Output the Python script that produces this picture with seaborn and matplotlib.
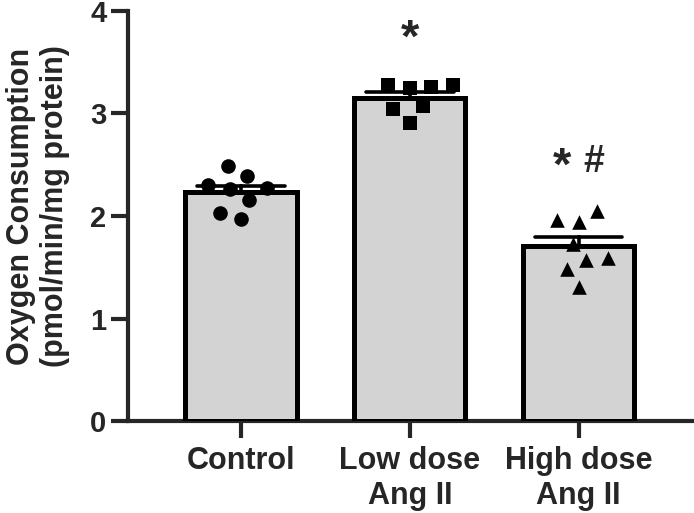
import matplotlib
matplotlib.use("Agg")
import matplotlib.pyplot as plt
import seaborn as sns
import pandas as pd

# values
groups = ["Control", "Low dose\nAng II", "High dose\nAng II"]
control = [2.49, 2.39, 2.26, 2.27, 2.30, 2.16, 1.97, 2.03]
low_dose = [3.28, 3.26, 3.28, 3.25, 3.07, 3.04, 2.91]
high_dose = [1.96, 2.05, 1.94, 1.73, 1.59, 1.57, 1.48, 1.31]
markers = ["o", "s", "^"]

df = pd.DataFrame({
    "group": [groups[0]] * len(control) + [groups[1]] * len(low_dose) + [groups[2]] * len(high_dose),
    "value": control + low_dose + high_dose,
})

sns.set_style("ticks")
plt.rcParams["font.family"] = ["Liberation Sans", "DejaVu Sans"]
plt.rcParams["font.weight"] = "bold"

fig = plt.figure(figsize=(6.94, 5.13), dpi=100)
ax = fig.add_axes([0.1844, 0.1793, 0.8146, 0.7993])

sns.barplot(data=df, x="group", y="value", order=groups, errorbar="se",
            color="#d3d3d3", edgecolor="black", linewidth=3.6, width=0.66,
            capsize=0.52, err_kws={"color": "black", "linewidth": 2.6},
            saturation=1, ax=ax)
# only the upper half of each error bar shows above the bar
for p in ax.patches:
    p.set_zorder(3)
for ln in ax.lines:
    ln.set_zorder(2)

for i, g in enumerate(groups):
    sub = df[df["group"] == g]
    # transparent edge spreads the swarm like the original
    sns.swarmplot(data=sub, x="group", y="value", order=groups, marker=markers[i],
                  color="black", size=10.5, linewidth=4.5, edgecolor=(0, 0, 0, 0),
                  ax=ax, zorder=5)

ax.text(1, 3.72, "*", ha="center", va="center", fontsize=34, fontweight="bold")
ax.text(1.9, 2.47, "*", ha="center", va="center", fontsize=34, fontweight="bold")
ax.text(2.09, 2.53, "#", ha="center", va="center", fontsize=27, fontweight="bold")

ax.set_ylim(0, 4)
ax.set_xlim(-0.67, 2.68)
ax.set_yticks([0, 1, 2, 3, 4])
ax.set_xlabel("")
ax.set_ylabel("Oxygen Consumption\n(pmol/min/mg protein)", fontsize=22,
              fontweight="bold", linespacing=1.15)
ax.yaxis.set_label_coords(-0.103, 0.524)
ax.tick_params(axis="y", labelsize=21, width=3, length=12, pad=3.5)
ax.tick_params(axis="x", labelsize=22, width=3, length=12, pad=6)
for lab in ax.get_xticklabels() + ax.get_yticklabels():
    lab.set_fontweight("bold")
for side in ["top", "right"]:
    ax.spines[side].set_visible(False)
for side in ["left", "bottom"]:
    ax.spines[side].set_linewidth(3)

fig.savefig("out.png", dpi=100)
